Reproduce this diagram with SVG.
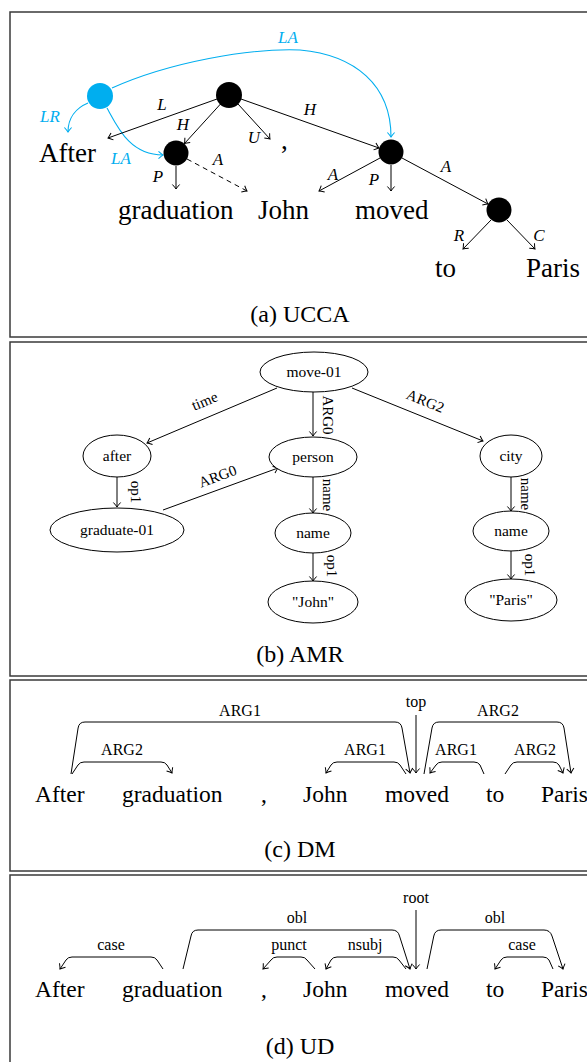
<svg xmlns="http://www.w3.org/2000/svg" width="587" height="1062" viewBox="0 0 587 1062">
<style>
text{font-family:"Liberation Serif","Times New Roman",Times,"DejaVu Serif",serif;fill:#000}
.frame{fill:none;stroke:#3a3a3a;stroke-width:1.5}
.w{font-size:27px}
.lb{font-style:italic;font-size:17px;text-anchor:middle}
.bl{fill:#00AEEF}
.cap{font-size:24px;text-anchor:middle}
.an{font-size:15.5px;text-anchor:middle}
.al{font-size:15px;text-anchor:middle}
.dw{font-size:23.5px}
.dl{font-size:16px;text-anchor:middle}
.e{fill:none;stroke:#000;stroke-width:1;marker-end:url(#ah)}
.eb{fill:none;stroke:#00AEEF;stroke-width:1.1;marker-end:url(#ahb)}
.ell{fill:#fff;stroke:#000;stroke-width:1}
</style>
<defs>
<marker id="ah" viewBox="-6 -6 12 12" refX="0" refY="0" markerWidth="12" markerHeight="12" orient="auto" markerUnits="userSpaceOnUse">
<path d="M-4.5,-3.6 Q-1.5,-0.9 0,0 Q-1.5,0.9 -4.5,3.6" fill="none" stroke="#000" stroke-width="1"/>
</marker>
<marker id="ahb" viewBox="-6 -6 12 12" refX="0" refY="0" markerWidth="12" markerHeight="12" orient="auto" markerUnits="userSpaceOnUse">
<path d="M-4.5,-3.6 Q-1.5,-0.9 0,0 Q-1.5,0.9 -4.5,3.6" fill="none" stroke="#00AEEF" stroke-width="1.1"/>
</marker>
</defs>

<!-- panel frames -->
<g id="frames">
<rect class="frame" x="10" y="12" width="600" height="325"/>
<rect class="frame" x="10" y="342" width="600" height="334"/>
<rect class="frame" x="10" y="680" width="600" height="191"/>
<rect class="frame" x="10" y="875" width="600" height="220"/>
</g>

<!-- (a) UCCA -->
<g id="ucca-connectors">
<path class="eb" d="M112,88 C170,62 250,48 300,50 C355,55 391,85 391,137"/>
<path class="eb" d="M88,103 C76,108 68,118 68,132"/>
<path class="eb" d="M107,108 C118,128 130,155 163,155"/>
<path class="e" d="M217,99 L108,138"/>
<path class="e" d="M220.5,104 L184.5,143.5"/>
<path class="e" d="M238,104 L270,139"/>
<path class="e" d="M241,99 L379,148"/>
<path class="e" d="M176,166 L176,189"/>
<path class="e" d="M187,159 L247,191" stroke-dasharray="5,4"/>
<path class="e" d="M380,158 L319,191"/>
<path class="e" d="M391,165 L391,191"/>
<path class="e" d="M402,158 L488,204"/>
<path class="e" d="M491,220 L463,249"/>
<path class="e" d="M507,220 L535,249"/>
<text class="lb bl" x="288" y="43">LA</text>
<text class="lb bl" x="50" y="122">LR</text>
<text class="lb bl" x="121" y="164">LA</text>
<text class="lb" x="162" y="110">L</text>
<text class="lb" x="183" y="130">H</text>
<text class="lb" x="254" y="143">U</text>
<text class="lb" x="310" y="115">H</text>
<text class="lb" x="218" y="165">A</text>
<text class="lb" x="158" y="182">P</text>
<text class="lb" x="333" y="180">A</text>
<text class="lb" x="374" y="185">P</text>
<text class="lb" x="446" y="172">A</text>
<text class="lb" x="459" y="241">R</text>
<text class="lb" x="539" y="241">C</text>
</g>
<g id="ucca-n-blue"><circle cx="100" cy="96" r="13" fill="#00AEEF"/></g>
<g id="ucca-n-root"><circle cx="229" cy="95" r="13" fill="#000"/></g>
<g id="ucca-n-grad"><circle cx="176" cy="153" r="12.5" fill="#000"/></g>
<g id="ucca-n-moved"><circle cx="391" cy="152" r="12.5" fill="#000"/></g>
<g id="ucca-n-toparis"><circle cx="499" cy="210" r="12.5" fill="#000"/></g>
<g id="ucca-w-after"><text class="w" x="39" y="162">After</text></g>
<g id="ucca-w-comma"><text class="w" x="281" y="149">,</text></g>
<g id="ucca-w-graduation"><text class="w" x="118" y="219">graduation</text></g>
<g id="ucca-w-john"><text class="w" x="258" y="219">John</text></g>
<g id="ucca-w-moved"><text class="w" x="355" y="219">moved</text></g>
<g id="ucca-w-to"><text class="w" x="435" y="277">to</text></g>
<g id="ucca-w-paris"><text class="w" x="526" y="277">Paris</text></g>
<text class="cap" x="300" y="322">(a) UCCA</text>

<!-- (b) AMR -->
<g id="amr-connectors">
<path class="e" d="M277,388 L147,443"/>
<path class="e" d="M313,392 L313,436"/>
<path class="e" d="M352,388 L483,441"/>
<path class="e" d="M117,477 L117,507"/>
<path class="e" d="M163,510 L278,468"/>
<path class="e" d="M313,477 L313,513"/>
<path class="e" d="M313,553 L313,581"/>
<path class="e" d="M511,477 L511,511"/>
<path class="e" d="M511,551 L511,579"/>
<text class="al" transform="translate(206.5,405.7) rotate(-22.8)">time</text>
<text class="al" transform="translate(423.5,405.7) rotate(22)">ARG2</text>
<text class="al" transform="translate(219.4,481) rotate(-20.5)">ARG0</text>
<text class="al" transform="translate(323,415) rotate(90)">ARG0</text>
<text class="al" transform="translate(131,492) rotate(90)">op1</text>
<text class="al" transform="translate(323,495) rotate(90)">name</text>
<text class="al" transform="translate(327,566) rotate(90)">op1</text>
<text class="al" transform="translate(521,494) rotate(90)">name</text>
<text class="al" transform="translate(525,565) rotate(90)">op1</text>
</g>
<g id="amr-move01"><ellipse class="ell" cx="314" cy="372" rx="54" ry="20"/><text class="an" x="314" y="377">move-01</text></g>
<g id="amr-after"><ellipse class="ell" cx="117" cy="456" rx="34" ry="21"/><text class="an" x="117" y="461">after</text></g>
<g id="amr-person"><ellipse class="ell" cx="313" cy="457" rx="44" ry="20"/><text class="an" x="313" y="462">person</text></g>
<g id="amr-city"><ellipse class="ell" cx="511" cy="456" rx="31" ry="21"/><text class="an" x="511" y="461">city</text></g>
<g id="amr-graduate01"><ellipse class="ell" cx="117" cy="530" rx="67" ry="22"/><text class="an" x="117" y="535">graduate-01</text></g>
<g id="amr-name1"><ellipse class="ell" cx="313" cy="533" rx="38" ry="20"/><text class="an" x="313" y="538">name</text></g>
<g id="amr-john"><ellipse class="ell" cx="313" cy="602" rx="45" ry="21"/><text class="an" x="313" y="607">"John"</text></g>
<g id="amr-name2"><ellipse class="ell" cx="511" cy="531" rx="38" ry="20"/><text class="an" x="511" y="536">name</text></g>
<g id="amr-paris"><ellipse class="ell" cx="511" cy="600" rx="46" ry="21"/><text class="an" x="511" y="605">"Paris"</text></g>
<text class="cap" x="300" y="662">(b) AMR</text>

<!-- (c) DM -->
<g id="dm-connectors">
<path class="e" d="M71,774 L78.1,728 Q79,722 85,722 L395,722 Q401,722 402,728 L410,773"/>
<path class="e" d="M72,774 L78,765 Q80,762 84,762 L161,762 Q165,762 167,765 L172,773"/>
<path class="e" d="M416,715 L416,773"/>
<path class="e" d="M406,774 L400,765 Q398,762 394,762 L337,762 Q333,762 331,765 L326,773"/>
<path class="e" d="M424,774 L432,728 Q433,722 439,722 L557,722 Q563,722 564,728 L571,773"/>
<path class="e" d="M484,774 L480,765 Q478,762 474,762 L442,762 Q438,762 436,765 L430,773"/>
<path class="e" d="M505,774 L511,765 Q513,762 517,762 L553,762 Q557,762 559,765 L563,773"/>
<text class="dl" x="240" y="716">ARG1</text>
<text class="dl" x="122" y="755">ARG2</text>
<text class="dl" x="416" y="707">top</text>
<text class="dl" x="365" y="755">ARG1</text>
<text class="dl" x="498" y="716">ARG2</text>
<text class="dl" x="456" y="755">ARG1</text>
<text class="dl" x="535" y="755">ARG2</text>
</g>
<g id="dm-after"><text class="dw" x="35" y="802">After</text></g>
<g id="dm-graduation"><text class="dw" x="122" y="802">graduation</text></g>
<g id="dm-comma"><text class="dw" x="261" y="802">,</text></g>
<g id="dm-john"><text class="dw" x="303" y="802">John</text></g>
<g id="dm-moved"><text class="dw" x="385" y="802">moved</text></g>
<g id="dm-to"><text class="dw" x="486" y="802">to</text></g>
<g id="dm-paris"><text class="dw" x="541" y="802">Paris</text></g>
<text class="cap" x="300" y="857">(c) DM</text>

<!-- (d) UD -->
<g id="ud-connectors">
<path class="e" d="M163,969 L157,960 Q155,957 151,957 L72,957 Q68,957 66,960 L60,969"/>
<path class="e" d="M183,969 L191,936 Q192,930 198,930 L392,930 Q398,930 399.5,936 L410,969"/>
<path class="e" d="M315,969 L307,960 Q305,957 301,957 L277,957 Q273,957 271,960 L263,969"/>
<path class="e" d="M406,969 L399,960 Q397,957 393,957 L337,957 Q333,957 331,960 L326,969"/>
<path class="e" d="M416,910 L416,969"/>
<path class="e" d="M427,969 L433.8,936 Q435,930 441,930 L544,930 Q550,930 552,936 L563,969"/>
<path class="e" d="M553,969 L549,960 Q547,957 543,957 L507,957 Q503,957 501,960 L495,969"/>
<text class="dl" x="111" y="950">case</text>
<text class="dl" x="297" y="923">obl</text>
<text class="dl" x="289" y="950">punct</text>
<text class="dl" x="365" y="950">nsubj</text>
<text class="dl" x="416" y="903">root</text>
<text class="dl" x="495" y="923">obl</text>
<text class="dl" x="522" y="950">case</text>
</g>
<g id="ud-after"><text class="dw" x="35" y="997">After</text></g>
<g id="ud-graduation"><text class="dw" x="122" y="997">graduation</text></g>
<g id="ud-comma"><text class="dw" x="261" y="997">,</text></g>
<g id="ud-john"><text class="dw" x="303" y="997">John</text></g>
<g id="ud-moved"><text class="dw" x="385" y="997">moved</text></g>
<g id="ud-to"><text class="dw" x="486" y="997">to</text></g>
<g id="ud-paris"><text class="dw" x="541" y="997">Paris</text></g>
<text class="cap" x="300" y="1054">(d) UD</text>
</svg>
